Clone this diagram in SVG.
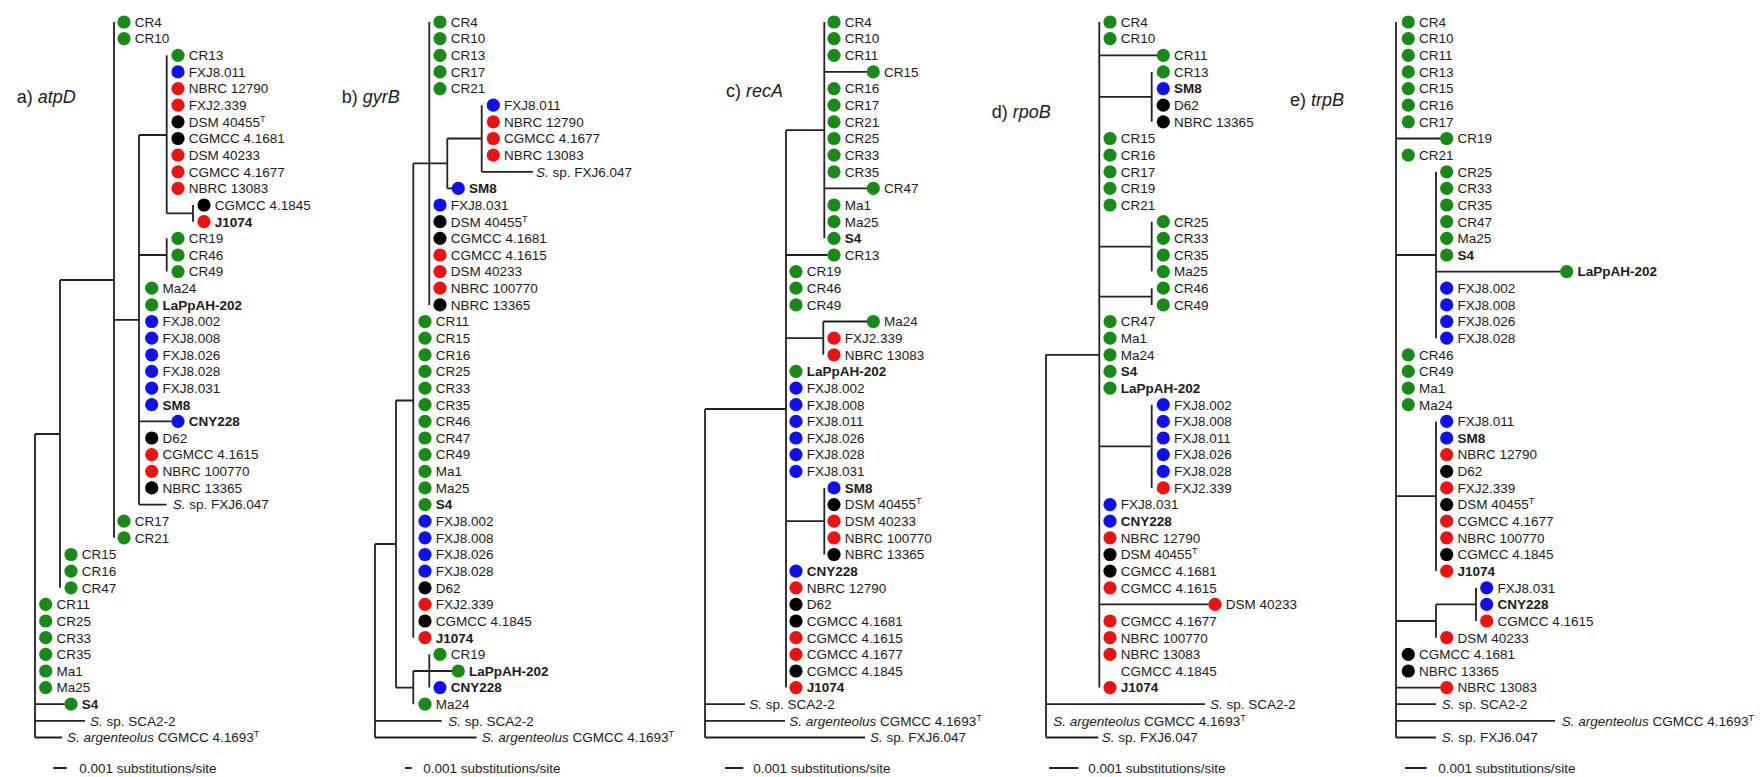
<svg xmlns="http://www.w3.org/2000/svg" width="1763" height="777" viewBox="0 0 1763 777">
<style>
.ln{fill:none;stroke:#222;stroke-width:1.8}
.g{fill:#178a17}.b{fill:#1010ee}.r{fill:#ee1111}.k{fill:#000}
circle{r:6.6px}
text{font-family:"Liberation Sans",Arial,sans-serif;font-size:13.5px;fill:#1a1a1a}
.bd{font-weight:bold}
.it{font-style:italic}
.sup{font-size:9px}
.lbl{font-size:18px}
</style>
<rect width="1763" height="777" fill="#fff"/>

<g id="labels">
<text class="lbl" x="16.7" y="103.3">a) <tspan class="it">atpD</tspan></text>
<text class="lbl" x="341.7" y="103.3">b) <tspan class="it">gyrB</tspan></text>
<text class="lbl" x="726" y="96.7">c) <tspan class="it">recA</tspan></text>
<text class="lbl" x="991.7" y="118">d) <tspan class="it">rpoB</tspan></text>
<text class="lbl" x="1290" y="105.5">e) <tspan class="it">trpB</tspan></text>
</g>

<g id="connectors" class="ln">
<path d="M35 434V737.5M35 434H60M35 704.2H64.7M35 720.9H85M35 737.5H62"/>
<path d="M60 280V587.8M60 280H114"/>
<path d="M114 22V537.8M114 319.8H139"/>
<path d="M139 135V504.6M139 135H166.7M139 255H166.7M139 421.4H171.7M139 504.6H166.7"/>
<path d="M166.7 55.3V213.4M166.7 213.4H193M193 205V221.7M166.7 238.3V271.6"/>
<path d="M375 544V737.5M375 544H396M375 720.9H441.7M375 737.5H476.7"/>
<path d="M396 400.5V687.6M396 400.5H413.3M396 687.6H413.3"/>
<path d="M413.3 163.4V637.7M413.3 163.4H447.3M429.3 22V304.9"/>
<path d="M447.3 138.5V188.4M447.3 138.5H481.7M447.3 188.4H452M481.7 105.2V171.8M481.7 171.8H533"/>
<path d="M413.3 671V704.2M413.3 671H452M429.3 654.3V687.6"/>
<path d="M705 409V737.5M705 409H786M705 704.2H745M705 720.9H785M705 737.5H865"/>
<path d="M786 130.2V687.6M786 130.2H824.3M786 255H827.7M786 338.2H823.3M786 521.2H824.3"/>
<path d="M824.3 22V238.3M824.3 71.9H867M824.3 188.4H867"/>
<path d="M823.3 321.5V354.8M823.3 321.5H867M824.3 487.9V554.5"/>
<path d="M1046 354.8V737.5M1046 354.8H1099.3M1046 704.2H1205M1046 737.5H1098.3"/>
<path d="M1099.3 22V687.6M1099.3 55.3H1157M1099.3 96.9H1151.7M1099.3 246.6H1151.7M1099.3 296.6H1151.7M1099.3 446.3H1151.7M1099.3 604.4H1208.7"/>
<path d="M1151.7 71.9V121.8M1151.7 221.7V271.6M1151.7 288.2V304.9M1151.7 404.7V487.9"/>
<path d="M1396 22V737.5M1396 138.5H1440.4M1396 255H1436M1396 496.2H1436M1396 621H1436M1396 687.6H1440.4M1396 704.2H1436M1396 720.9H1555M1396 737.5H1436"/>
<path d="M1436 171.8V338.2M1436 271.6H1560.4M1436 421.4V571.1M1436 604.4V637.7M1436 604.4H1476M1476 587.8V621"/>
<path d="M53.3 768H66.7M405 768H411.7M725 768H743.3M1049.3 768H1078.3M1405 768H1426.7"/>
</g>

<g id="scales">
<text x="79.3" y="772.8">0.001 substitutions/site</text>
<text x="423.3" y="772.8">0.001 substitutions/site</text>
<text x="753.3" y="772.8">0.001 substitutions/site</text>
<text x="1088.3" y="772.8">0.001 substitutions/site</text>
<text x="1438.3" y="772.8">0.001 substitutions/site</text>
</g>

<g id="panel-a">
<g id="a-CR4"><circle class="g" cx="124" cy="22" r="6.6"/><text x="134.8" y="26.8">CR4</text></g>
<g id="a-CR10"><circle class="g" cx="124" cy="38.6" r="6.6"/><text x="134.8" y="43.4">CR10</text></g>
<g id="a-CR13"><circle class="g" cx="178" cy="55.3" r="6.6"/><text x="188.8" y="60.1">CR13</text></g>
<g id="a-FXJ8.011"><circle class="b" cx="178" cy="71.9" r="6.6"/><text x="188.8" y="76.7">FXJ8.011</text></g>
<g id="a-NBRC12790"><circle class="r" cx="178" cy="88.6" r="6.6"/><text x="188.8" y="93.4">NBRC 12790</text></g>
<g id="a-FXJ2.339"><circle class="r" cx="178" cy="105.2" r="6.6"/><text x="188.8" y="110">FXJ2.339</text></g>
<g id="a-DSM40455T"><circle class="k" cx="178" cy="121.8" r="6.6"/><text x="188.8" y="126.6">DSM 40455<tspan class="sup" dy="-5">T</tspan></text></g>
<g id="a-CGMCC4.1681"><circle class="k" cx="178" cy="138.5" r="6.6"/><text x="188.8" y="143.3">CGMCC 4.1681</text></g>
<g id="a-DSM40233"><circle class="r" cx="178" cy="155.1" r="6.6"/><text x="188.8" y="159.9">DSM 40233</text></g>
<g id="a-CGMCC4.1677"><circle class="r" cx="178" cy="171.8" r="6.6"/><text x="188.8" y="176.6">CGMCC 4.1677</text></g>
<g id="a-NBRC13083"><circle class="r" cx="178" cy="188.4" r="6.6"/><text x="188.8" y="193.2">NBRC 13083</text></g>
<g id="a-CGMCC4.1845"><circle class="k" cx="204" cy="205" r="6.6"/><text x="214.8" y="209.8">CGMCC 4.1845</text></g>
<g id="a-J1074"><circle class="r" cx="204" cy="221.7" r="6.6"/><text class="bd" x="214.8" y="226.5">J1074</text></g>
<g id="a-CR19"><circle class="g" cx="178" cy="238.3" r="6.6"/><text x="188.8" y="243.1">CR19</text></g>
<g id="a-CR46"><circle class="g" cx="178" cy="255" r="6.6"/><text x="188.8" y="259.8">CR46</text></g>
<g id="a-CR49"><circle class="g" cx="178" cy="271.6" r="6.6"/><text x="188.8" y="276.4">CR49</text></g>
<g id="a-Ma24"><circle class="g" cx="151.7" cy="288.2" r="6.6"/><text x="162.5" y="293">Ma24</text></g>
<g id="a-LaPpAH-202"><circle class="g" cx="151.7" cy="304.9" r="6.6"/><text class="bd" x="162.5" y="309.7">LaPpAH-202</text></g>
<g id="a-FXJ8.002"><circle class="b" cx="151.7" cy="321.5" r="6.6"/><text x="162.5" y="326.3">FXJ8.002</text></g>
<g id="a-FXJ8.008"><circle class="b" cx="151.7" cy="338.2" r="6.6"/><text x="162.5" y="343">FXJ8.008</text></g>
<g id="a-FXJ8.026"><circle class="b" cx="151.7" cy="354.8" r="6.6"/><text x="162.5" y="359.6">FXJ8.026</text></g>
<g id="a-FXJ8.028"><circle class="b" cx="151.7" cy="371.4" r="6.6"/><text x="162.5" y="376.2">FXJ8.028</text></g>
<g id="a-FXJ8.031"><circle class="b" cx="151.7" cy="388.1" r="6.6"/><text x="162.5" y="392.9">FXJ8.031</text></g>
<g id="a-SM8"><circle class="b" cx="151.7" cy="404.7" r="6.6"/><text class="bd" x="162.5" y="409.5">SM8</text></g>
<g id="a-CNY228"><circle class="b" cx="178" cy="421.4" r="6.6"/><text class="bd" x="188.8" y="426.2">CNY228</text></g>
<g id="a-D62"><circle class="k" cx="151.7" cy="438" r="6.6"/><text x="162.5" y="442.8">D62</text></g>
<g id="a-CGMCC4.1615"><circle class="r" cx="151.7" cy="454.6" r="6.6"/><text x="162.5" y="459.4">CGMCC 4.1615</text></g>
<g id="a-NBRC100770"><circle class="r" cx="151.7" cy="471.3" r="6.6"/><text x="162.5" y="476.1">NBRC 100770</text></g>
<g id="a-NBRC13365"><circle class="k" cx="151.7" cy="487.9" r="6.6"/><text x="162.5" y="492.7">NBRC 13365</text></g>
<g id="a-FXJ6.047"><text x="172.7" y="509.4"><tspan class="it">S.</tspan> sp. FXJ6.047</text></g>
<g id="a-CR17"><circle class="g" cx="124" cy="521.2" r="6.6"/><text x="134.8" y="526">CR17</text></g>
<g id="a-CR21"><circle class="g" cx="124" cy="537.8" r="6.6"/><text x="134.8" y="542.6">CR21</text></g>
<g id="a-CR15"><circle class="g" cx="71" cy="554.5" r="6.6"/><text x="81.8" y="559.3">CR15</text></g>
<g id="a-CR16"><circle class="g" cx="71" cy="571.1" r="6.6"/><text x="81.8" y="575.9">CR16</text></g>
<g id="a-CR47"><circle class="g" cx="71" cy="587.8" r="6.6"/><text x="81.8" y="592.6">CR47</text></g>
<g id="a-CR11"><circle class="g" cx="45.7" cy="604.4" r="6.6"/><text x="56.5" y="609.2">CR11</text></g>
<g id="a-CR25"><circle class="g" cx="45.7" cy="621" r="6.6"/><text x="56.5" y="625.8">CR25</text></g>
<g id="a-CR33"><circle class="g" cx="45.7" cy="637.7" r="6.6"/><text x="56.5" y="642.5">CR33</text></g>
<g id="a-CR35"><circle class="g" cx="45.7" cy="654.3" r="6.6"/><text x="56.5" y="659.1">CR35</text></g>
<g id="a-Ma1"><circle class="g" cx="45.7" cy="671" r="6.6"/><text x="56.5" y="675.8">Ma1</text></g>
<g id="a-Ma25"><circle class="g" cx="45.7" cy="687.6" r="6.6"/><text x="56.5" y="692.4">Ma25</text></g>
<g id="a-S4"><circle class="g" cx="71" cy="704.2" r="6.6"/><text class="bd" x="81.8" y="709">S4</text></g>
<g id="a-SCA2-2"><text x="90" y="725.7"><tspan class="it">S.</tspan> sp. SCA2-2</text></g>
<g id="a-argenteolus"><text x="67" y="742.3"><tspan class="it">S. argenteolus</tspan> CGMCC 4.1693<tspan class="sup" dy="-5">T</tspan></text></g>
</g>

<g id="panel-b">
<g id="b-CR4"><circle class="g" cx="440" cy="22" r="6.6"/><text x="450.8" y="26.8">CR4</text></g>
<g id="b-CR10"><circle class="g" cx="440" cy="38.6" r="6.6"/><text x="450.8" y="43.4">CR10</text></g>
<g id="b-CR13"><circle class="g" cx="440" cy="55.3" r="6.6"/><text x="450.8" y="60.1">CR13</text></g>
<g id="b-CR17"><circle class="g" cx="440" cy="71.9" r="6.6"/><text x="450.8" y="76.7">CR17</text></g>
<g id="b-CR21"><circle class="g" cx="440" cy="88.6" r="6.6"/><text x="450.8" y="93.4">CR21</text></g>
<g id="b-FXJ8.011"><circle class="b" cx="493.3" cy="105.2" r="6.6"/><text x="504.1" y="110">FXJ8.011</text></g>
<g id="b-NBRC12790"><circle class="r" cx="493.3" cy="121.8" r="6.6"/><text x="504.1" y="126.6">NBRC 12790</text></g>
<g id="b-CGMCC4.1677"><circle class="r" cx="493.3" cy="138.5" r="6.6"/><text x="504.1" y="143.3">CGMCC 4.1677</text></g>
<g id="b-NBRC13083"><circle class="r" cx="493.3" cy="155.1" r="6.6"/><text x="504.1" y="159.9">NBRC 13083</text></g>
<g id="b-FXJ6.047"><text x="536" y="176.6"><tspan class="it">S.</tspan> sp. FXJ6.047</text></g>
<g id="b-SM8"><circle class="b" cx="458.3" cy="188.4" r="6.6"/><text class="bd" x="469.1" y="193.2">SM8</text></g>
<g id="b-FXJ8.031"><circle class="b" cx="440" cy="205" r="6.6"/><text x="450.8" y="209.8">FXJ8.031</text></g>
<g id="b-DSM40455T"><circle class="k" cx="440" cy="221.7" r="6.6"/><text x="450.8" y="226.5">DSM 40455<tspan class="sup" dy="-5">T</tspan></text></g>
<g id="b-CGMCC4.1681"><circle class="k" cx="440" cy="238.3" r="6.6"/><text x="450.8" y="243.1">CGMCC 4.1681</text></g>
<g id="b-CGMCC4.1615"><circle class="r" cx="440" cy="255" r="6.6"/><text x="450.8" y="259.8">CGMCC 4.1615</text></g>
<g id="b-DSM40233"><circle class="r" cx="440" cy="271.6" r="6.6"/><text x="450.8" y="276.4">DSM 40233</text></g>
<g id="b-NBRC100770"><circle class="r" cx="440" cy="288.2" r="6.6"/><text x="450.8" y="293">NBRC 100770</text></g>
<g id="b-NBRC13365"><circle class="k" cx="440" cy="304.9" r="6.6"/><text x="450.8" y="309.7">NBRC 13365</text></g>
<g id="b-CR11"><circle class="g" cx="425" cy="321.5" r="6.6"/><text x="435.8" y="326.3">CR11</text></g>
<g id="b-CR15"><circle class="g" cx="425" cy="338.2" r="6.6"/><text x="435.8" y="343">CR15</text></g>
<g id="b-CR16"><circle class="g" cx="425" cy="354.8" r="6.6"/><text x="435.8" y="359.6">CR16</text></g>
<g id="b-CR25"><circle class="g" cx="425" cy="371.4" r="6.6"/><text x="435.8" y="376.2">CR25</text></g>
<g id="b-CR33"><circle class="g" cx="425" cy="388.1" r="6.6"/><text x="435.8" y="392.9">CR33</text></g>
<g id="b-CR35"><circle class="g" cx="425" cy="404.7" r="6.6"/><text x="435.8" y="409.5">CR35</text></g>
<g id="b-CR46"><circle class="g" cx="425" cy="421.4" r="6.6"/><text x="435.8" y="426.2">CR46</text></g>
<g id="b-CR47"><circle class="g" cx="425" cy="438" r="6.6"/><text x="435.8" y="442.8">CR47</text></g>
<g id="b-CR49"><circle class="g" cx="425" cy="454.6" r="6.6"/><text x="435.8" y="459.4">CR49</text></g>
<g id="b-Ma1"><circle class="g" cx="425" cy="471.3" r="6.6"/><text x="435.8" y="476.1">Ma1</text></g>
<g id="b-Ma25"><circle class="g" cx="425" cy="487.9" r="6.6"/><text x="435.8" y="492.7">Ma25</text></g>
<g id="b-S4"><circle class="g" cx="425" cy="504.6" r="6.6"/><text class="bd" x="435.8" y="509.4">S4</text></g>
<g id="b-FXJ8.002"><circle class="b" cx="425" cy="521.2" r="6.6"/><text x="435.8" y="526">FXJ8.002</text></g>
<g id="b-FXJ8.008"><circle class="b" cx="425" cy="537.8" r="6.6"/><text x="435.8" y="542.6">FXJ8.008</text></g>
<g id="b-FXJ8.026"><circle class="b" cx="425" cy="554.5" r="6.6"/><text x="435.8" y="559.3">FXJ8.026</text></g>
<g id="b-FXJ8.028"><circle class="b" cx="425" cy="571.1" r="6.6"/><text x="435.8" y="575.9">FXJ8.028</text></g>
<g id="b-D62"><circle class="k" cx="425" cy="587.8" r="6.6"/><text x="435.8" y="592.6">D62</text></g>
<g id="b-FXJ2.339"><circle class="r" cx="425" cy="604.4" r="6.6"/><text x="435.8" y="609.2">FXJ2.339</text></g>
<g id="b-CGMCC4.1845"><circle class="k" cx="425" cy="621" r="6.6"/><text x="435.8" y="625.8">CGMCC 4.1845</text></g>
<g id="b-J1074"><circle class="r" cx="425" cy="637.7" r="6.6"/><text class="bd" x="435.8" y="642.5">J1074</text></g>
<g id="b-CR19"><circle class="g" cx="440" cy="654.3" r="6.6"/><text x="450.8" y="659.1">CR19</text></g>
<g id="b-LaPpAH-202"><circle class="g" cx="458.3" cy="671" r="6.6"/><text class="bd" x="469.1" y="675.8">LaPpAH-202</text></g>
<g id="b-CNY228"><circle class="b" cx="440" cy="687.6" r="6.6"/><text class="bd" x="450.8" y="692.4">CNY228</text></g>
<g id="b-Ma24"><circle class="g" cx="425" cy="704.2" r="6.6"/><text x="435.8" y="709">Ma24</text></g>
<g id="b-SCA2-2"><text x="448.3" y="725.7"><tspan class="it">S.</tspan> sp. SCA2-2</text></g>
<g id="b-argenteolus"><text x="481.7" y="742.3"><tspan class="it">S. argenteolus</tspan> CGMCC 4.1693<tspan class="sup" dy="-5">T</tspan></text></g>
</g>

<g id="panel-c">
<g id="c-CR4"><circle class="g" cx="834" cy="22" r="6.6"/><text x="844.8" y="26.8">CR4</text></g>
<g id="c-CR10"><circle class="g" cx="834" cy="38.6" r="6.6"/><text x="844.8" y="43.4">CR10</text></g>
<g id="c-CR11"><circle class="g" cx="834" cy="55.3" r="6.6"/><text x="844.8" y="60.1">CR11</text></g>
<g id="c-CR15"><circle class="g" cx="873.3" cy="71.9" r="6.6"/><text x="884.1" y="76.7">CR15</text></g>
<g id="c-CR16"><circle class="g" cx="834" cy="88.6" r="6.6"/><text x="844.8" y="93.4">CR16</text></g>
<g id="c-CR17"><circle class="g" cx="834" cy="105.2" r="6.6"/><text x="844.8" y="110">CR17</text></g>
<g id="c-CR21"><circle class="g" cx="834" cy="121.8" r="6.6"/><text x="844.8" y="126.6">CR21</text></g>
<g id="c-CR25"><circle class="g" cx="834" cy="138.5" r="6.6"/><text x="844.8" y="143.3">CR25</text></g>
<g id="c-CR33"><circle class="g" cx="834" cy="155.1" r="6.6"/><text x="844.8" y="159.9">CR33</text></g>
<g id="c-CR35"><circle class="g" cx="834" cy="171.8" r="6.6"/><text x="844.8" y="176.6">CR35</text></g>
<g id="c-CR47"><circle class="g" cx="873.3" cy="188.4" r="6.6"/><text x="884.1" y="193.2">CR47</text></g>
<g id="c-Ma1"><circle class="g" cx="834" cy="205" r="6.6"/><text x="844.8" y="209.8">Ma1</text></g>
<g id="c-Ma25"><circle class="g" cx="834" cy="221.7" r="6.6"/><text x="844.8" y="226.5">Ma25</text></g>
<g id="c-S4"><circle class="g" cx="834" cy="238.3" r="6.6"/><text class="bd" x="844.8" y="243.1">S4</text></g>
<g id="c-CR13"><circle class="g" cx="834" cy="255" r="6.6"/><text x="844.8" y="259.8">CR13</text></g>
<g id="c-CR19"><circle class="g" cx="796" cy="271.6" r="6.6"/><text x="806.8" y="276.4">CR19</text></g>
<g id="c-CR46"><circle class="g" cx="796" cy="288.2" r="6.6"/><text x="806.8" y="293">CR46</text></g>
<g id="c-CR49"><circle class="g" cx="796" cy="304.9" r="6.6"/><text x="806.8" y="309.7">CR49</text></g>
<g id="c-Ma24"><circle class="g" cx="873.3" cy="321.5" r="6.6"/><text x="884.1" y="326.3">Ma24</text></g>
<g id="c-FXJ2.339"><circle class="r" cx="834" cy="338.2" r="6.6"/><text x="844.8" y="343">FXJ2.339</text></g>
<g id="c-NBRC13083"><circle class="r" cx="834" cy="354.8" r="6.6"/><text x="844.8" y="359.6">NBRC 13083</text></g>
<g id="c-LaPpAH-202"><circle class="g" cx="796" cy="371.4" r="6.6"/><text class="bd" x="806.8" y="376.2">LaPpAH-202</text></g>
<g id="c-FXJ8.002"><circle class="b" cx="796" cy="388.1" r="6.6"/><text x="806.8" y="392.9">FXJ8.002</text></g>
<g id="c-FXJ8.008"><circle class="b" cx="796" cy="404.7" r="6.6"/><text x="806.8" y="409.5">FXJ8.008</text></g>
<g id="c-FXJ8.011"><circle class="b" cx="796" cy="421.4" r="6.6"/><text x="806.8" y="426.2">FXJ8.011</text></g>
<g id="c-FXJ8.026"><circle class="b" cx="796" cy="438" r="6.6"/><text x="806.8" y="442.8">FXJ8.026</text></g>
<g id="c-FXJ8.028"><circle class="b" cx="796" cy="454.6" r="6.6"/><text x="806.8" y="459.4">FXJ8.028</text></g>
<g id="c-FXJ8.031"><circle class="b" cx="796" cy="471.3" r="6.6"/><text x="806.8" y="476.1">FXJ8.031</text></g>
<g id="c-SM8"><circle class="b" cx="834" cy="487.9" r="6.6"/><text class="bd" x="844.8" y="492.7">SM8</text></g>
<g id="c-DSM40455T"><circle class="k" cx="834" cy="504.6" r="6.6"/><text x="844.8" y="509.4">DSM 40455<tspan class="sup" dy="-5">T</tspan></text></g>
<g id="c-DSM40233"><circle class="r" cx="834" cy="521.2" r="6.6"/><text x="844.8" y="526">DSM 40233</text></g>
<g id="c-NBRC100770"><circle class="r" cx="834" cy="537.8" r="6.6"/><text x="844.8" y="542.6">NBRC 100770</text></g>
<g id="c-NBRC13365"><circle class="k" cx="834" cy="554.5" r="6.6"/><text x="844.8" y="559.3">NBRC 13365</text></g>
<g id="c-CNY228"><circle class="b" cx="796" cy="571.1" r="6.6"/><text class="bd" x="806.8" y="575.9">CNY228</text></g>
<g id="c-NBRC12790"><circle class="r" cx="796" cy="587.8" r="6.6"/><text x="806.8" y="592.6">NBRC 12790</text></g>
<g id="c-D62"><circle class="k" cx="796" cy="604.4" r="6.6"/><text x="806.8" y="609.2">D62</text></g>
<g id="c-CGMCC4.1681"><circle class="k" cx="796" cy="621" r="6.6"/><text x="806.8" y="625.8">CGMCC 4.1681</text></g>
<g id="c-CGMCC4.1615"><circle class="r" cx="796" cy="637.7" r="6.6"/><text x="806.8" y="642.5">CGMCC 4.1615</text></g>
<g id="c-CGMCC4.1677"><circle class="r" cx="796" cy="654.3" r="6.6"/><text x="806.8" y="659.1">CGMCC 4.1677</text></g>
<g id="c-CGMCC4.1845"><circle class="k" cx="796" cy="671" r="6.6"/><text x="806.8" y="675.8">CGMCC 4.1845</text></g>
<g id="c-J1074"><circle class="r" cx="796" cy="687.6" r="6.6"/><text class="bd" x="806.8" y="692.4">J1074</text></g>
<g id="c-SCA2-2"><text x="749.3" y="709"><tspan class="it">S.</tspan> sp. SCA2-2</text></g>
<g id="c-argenteolus"><text x="789.3" y="725.7"><tspan class="it">S. argenteolus</tspan> CGMCC 4.1693<tspan class="sup" dy="-5">T</tspan></text></g>
<g id="c-FXJ6.047"><text x="870" y="742.3"><tspan class="it">S.</tspan> sp. FXJ6.047</text></g>
</g>

<g id="panel-d">
<g id="d-CR4"><circle class="g" cx="1110" cy="22" r="6.6"/><text x="1120.8" y="26.8">CR4</text></g>
<g id="d-CR10"><circle class="g" cx="1110" cy="38.6" r="6.6"/><text x="1120.8" y="43.4">CR10</text></g>
<g id="d-CR11"><circle class="g" cx="1163.3" cy="55.3" r="6.6"/><text x="1174.1" y="60.1">CR11</text></g>
<g id="d-CR13"><circle class="g" cx="1163.3" cy="71.9" r="6.6"/><text x="1174.1" y="76.7">CR13</text></g>
<g id="d-SM8"><circle class="b" cx="1163.3" cy="88.6" r="6.6"/><text class="bd" x="1174.1" y="93.4">SM8</text></g>
<g id="d-D62"><circle class="k" cx="1163.3" cy="105.2" r="6.6"/><text x="1174.1" y="110">D62</text></g>
<g id="d-NBRC13365"><circle class="k" cx="1163.3" cy="121.8" r="6.6"/><text x="1174.1" y="126.6">NBRC 13365</text></g>
<g id="d-CR15"><circle class="g" cx="1110" cy="138.5" r="6.6"/><text x="1120.8" y="143.3">CR15</text></g>
<g id="d-CR16"><circle class="g" cx="1110" cy="155.1" r="6.6"/><text x="1120.8" y="159.9">CR16</text></g>
<g id="d-CR17"><circle class="g" cx="1110" cy="171.8" r="6.6"/><text x="1120.8" y="176.6">CR17</text></g>
<g id="d-CR19"><circle class="g" cx="1110" cy="188.4" r="6.6"/><text x="1120.8" y="193.2">CR19</text></g>
<g id="d-CR21"><circle class="g" cx="1110" cy="205" r="6.6"/><text x="1120.8" y="209.8">CR21</text></g>
<g id="d-CR25"><circle class="g" cx="1163.3" cy="221.7" r="6.6"/><text x="1174.1" y="226.5">CR25</text></g>
<g id="d-CR33"><circle class="g" cx="1163.3" cy="238.3" r="6.6"/><text x="1174.1" y="243.1">CR33</text></g>
<g id="d-CR35"><circle class="g" cx="1163.3" cy="255" r="6.6"/><text x="1174.1" y="259.8">CR35</text></g>
<g id="d-Ma25"><circle class="g" cx="1163.3" cy="271.6" r="6.6"/><text x="1174.1" y="276.4">Ma25</text></g>
<g id="d-CR46"><circle class="g" cx="1163.3" cy="288.2" r="6.6"/><text x="1174.1" y="293">CR46</text></g>
<g id="d-CR49"><circle class="g" cx="1163.3" cy="304.9" r="6.6"/><text x="1174.1" y="309.7">CR49</text></g>
<g id="d-CR47"><circle class="g" cx="1110" cy="321.5" r="6.6"/><text x="1120.8" y="326.3">CR47</text></g>
<g id="d-Ma1"><circle class="g" cx="1110" cy="338.2" r="6.6"/><text x="1120.8" y="343">Ma1</text></g>
<g id="d-Ma24"><circle class="g" cx="1110" cy="354.8" r="6.6"/><text x="1120.8" y="359.6">Ma24</text></g>
<g id="d-S4"><circle class="g" cx="1110" cy="371.4" r="6.6"/><text class="bd" x="1120.8" y="376.2">S4</text></g>
<g id="d-LaPpAH-202"><circle class="g" cx="1110" cy="388.1" r="6.6"/><text class="bd" x="1120.8" y="392.9">LaPpAH-202</text></g>
<g id="d-FXJ8.002"><circle class="b" cx="1163.3" cy="404.7" r="6.6"/><text x="1174.1" y="409.5">FXJ8.002</text></g>
<g id="d-FXJ8.008"><circle class="b" cx="1163.3" cy="421.4" r="6.6"/><text x="1174.1" y="426.2">FXJ8.008</text></g>
<g id="d-FXJ8.011"><circle class="b" cx="1163.3" cy="438" r="6.6"/><text x="1174.1" y="442.8">FXJ8.011</text></g>
<g id="d-FXJ8.026"><circle class="b" cx="1163.3" cy="454.6" r="6.6"/><text x="1174.1" y="459.4">FXJ8.026</text></g>
<g id="d-FXJ8.028"><circle class="b" cx="1163.3" cy="471.3" r="6.6"/><text x="1174.1" y="476.1">FXJ8.028</text></g>
<g id="d-FXJ2.339"><circle class="r" cx="1163.3" cy="487.9" r="6.6"/><text x="1174.1" y="492.7">FXJ2.339</text></g>
<g id="d-FXJ8.031"><circle class="b" cx="1110" cy="504.6" r="6.6"/><text x="1120.8" y="509.4">FXJ8.031</text></g>
<g id="d-CNY228"><circle class="b" cx="1110" cy="521.2" r="6.6"/><text class="bd" x="1120.8" y="526">CNY228</text></g>
<g id="d-NBRC12790"><circle class="r" cx="1110" cy="537.8" r="6.6"/><text x="1120.8" y="542.6">NBRC 12790</text></g>
<g id="d-DSM40455T"><circle class="k" cx="1110" cy="554.5" r="6.6"/><text x="1120.8" y="559.3">DSM 40455<tspan class="sup" dy="-5">T</tspan></text></g>
<g id="d-CGMCC4.1681"><circle class="k" cx="1110" cy="571.1" r="6.6"/><text x="1120.8" y="575.9">CGMCC 4.1681</text></g>
<g id="d-CGMCC4.1615"><circle class="r" cx="1110" cy="587.8" r="6.6"/><text x="1120.8" y="592.6">CGMCC 4.1615</text></g>
<g id="d-DSM40233"><circle class="r" cx="1215" cy="604.4" r="6.6"/><text x="1225.8" y="609.2">DSM 40233</text></g>
<g id="d-CGMCC4.1677"><circle class="r" cx="1110" cy="621" r="6.6"/><text x="1120.8" y="625.8">CGMCC 4.1677</text></g>
<g id="d-NBRC100770"><circle class="r" cx="1110" cy="637.7" r="6.6"/><text x="1120.8" y="642.5">NBRC 100770</text></g>
<g id="d-NBRC13083"><circle class="r" cx="1110" cy="654.3" r="6.6"/><text x="1120.8" y="659.1">NBRC 13083</text></g>
<g id="d-CGMCC4.1845"><text x="1120.8" y="675.8">CGMCC 4.1845</text></g>
<g id="d-J1074"><circle class="r" cx="1110" cy="687.6" r="6.6"/><text class="bd" x="1120.8" y="692.4">J1074</text></g>
<g id="d-SCA2-2"><text x="1210" y="709"><tspan class="it">S.</tspan> sp. SCA2-2</text></g>
<g id="d-argenteolus"><text x="1053.3" y="725.7"><tspan class="it">S. argenteolus</tspan> CGMCC 4.1693<tspan class="sup" dy="-5">T</tspan></text></g>
<g id="d-FXJ6.047"><text x="1101.7" y="742.3"><tspan class="it">S.</tspan> sp. FXJ6.047</text></g>
</g>

<g id="panel-e">
<g id="e-CR4"><circle class="g" cx="1408.3" cy="22" r="6.6"/><text x="1419.1" y="26.8">CR4</text></g>
<g id="e-CR10"><circle class="g" cx="1408.3" cy="38.6" r="6.6"/><text x="1419.1" y="43.4">CR10</text></g>
<g id="e-CR11"><circle class="g" cx="1408.3" cy="55.3" r="6.6"/><text x="1419.1" y="60.1">CR11</text></g>
<g id="e-CR13"><circle class="g" cx="1408.3" cy="71.9" r="6.6"/><text x="1419.1" y="76.7">CR13</text></g>
<g id="e-CR15"><circle class="g" cx="1408.3" cy="88.6" r="6.6"/><text x="1419.1" y="93.4">CR15</text></g>
<g id="e-CR16"><circle class="g" cx="1408.3" cy="105.2" r="6.6"/><text x="1419.1" y="110">CR16</text></g>
<g id="e-CR17"><circle class="g" cx="1408.3" cy="121.8" r="6.6"/><text x="1419.1" y="126.6">CR17</text></g>
<g id="e-CR19"><circle class="g" cx="1446.7" cy="138.5" r="6.6"/><text x="1457.5" y="143.3">CR19</text></g>
<g id="e-CR21"><circle class="g" cx="1408.3" cy="155.1" r="6.6"/><text x="1419.1" y="159.9">CR21</text></g>
<g id="e-CR25"><circle class="g" cx="1446.7" cy="171.8" r="6.6"/><text x="1457.5" y="176.6">CR25</text></g>
<g id="e-CR33"><circle class="g" cx="1446.7" cy="188.4" r="6.6"/><text x="1457.5" y="193.2">CR33</text></g>
<g id="e-CR35"><circle class="g" cx="1446.7" cy="205" r="6.6"/><text x="1457.5" y="209.8">CR35</text></g>
<g id="e-CR47"><circle class="g" cx="1446.7" cy="221.7" r="6.6"/><text x="1457.5" y="226.5">CR47</text></g>
<g id="e-Ma25"><circle class="g" cx="1446.7" cy="238.3" r="6.6"/><text x="1457.5" y="243.1">Ma25</text></g>
<g id="e-S4"><circle class="g" cx="1446.7" cy="255" r="6.6"/><text class="bd" x="1457.5" y="259.8">S4</text></g>
<g id="e-LaPpAH-202"><circle class="g" cx="1566.7" cy="271.6" r="6.6"/><text class="bd" x="1577.5" y="276.4">LaPpAH-202</text></g>
<g id="e-FXJ8.002"><circle class="b" cx="1446.7" cy="288.2" r="6.6"/><text x="1457.5" y="293">FXJ8.002</text></g>
<g id="e-FXJ8.008"><circle class="b" cx="1446.7" cy="304.9" r="6.6"/><text x="1457.5" y="309.7">FXJ8.008</text></g>
<g id="e-FXJ8.026"><circle class="b" cx="1446.7" cy="321.5" r="6.6"/><text x="1457.5" y="326.3">FXJ8.026</text></g>
<g id="e-FXJ8.028"><circle class="b" cx="1446.7" cy="338.2" r="6.6"/><text x="1457.5" y="343">FXJ8.028</text></g>
<g id="e-CR46"><circle class="g" cx="1408.3" cy="354.8" r="6.6"/><text x="1419.1" y="359.6">CR46</text></g>
<g id="e-CR49"><circle class="g" cx="1408.3" cy="371.4" r="6.6"/><text x="1419.1" y="376.2">CR49</text></g>
<g id="e-Ma1"><circle class="g" cx="1408.3" cy="388.1" r="6.6"/><text x="1419.1" y="392.9">Ma1</text></g>
<g id="e-Ma24"><circle class="g" cx="1408.3" cy="404.7" r="6.6"/><text x="1419.1" y="409.5">Ma24</text></g>
<g id="e-FXJ8.011"><circle class="b" cx="1446.7" cy="421.4" r="6.6"/><text x="1457.5" y="426.2">FXJ8.011</text></g>
<g id="e-SM8"><circle class="b" cx="1446.7" cy="438" r="6.6"/><text class="bd" x="1457.5" y="442.8">SM8</text></g>
<g id="e-NBRC12790"><circle class="r" cx="1446.7" cy="454.6" r="6.6"/><text x="1457.5" y="459.4">NBRC 12790</text></g>
<g id="e-D62"><circle class="k" cx="1446.7" cy="471.3" r="6.6"/><text x="1457.5" y="476.1">D62</text></g>
<g id="e-FXJ2.339"><circle class="r" cx="1446.7" cy="487.9" r="6.6"/><text x="1457.5" y="492.7">FXJ2.339</text></g>
<g id="e-DSM40455T"><circle class="k" cx="1446.7" cy="504.6" r="6.6"/><text x="1457.5" y="509.4">DSM 40455<tspan class="sup" dy="-5">T</tspan></text></g>
<g id="e-CGMCC4.1677"><circle class="r" cx="1446.7" cy="521.2" r="6.6"/><text x="1457.5" y="526">CGMCC 4.1677</text></g>
<g id="e-NBRC100770"><circle class="r" cx="1446.7" cy="537.8" r="6.6"/><text x="1457.5" y="542.6">NBRC 100770</text></g>
<g id="e-CGMCC4.1845"><circle class="k" cx="1446.7" cy="554.5" r="6.6"/><text x="1457.5" y="559.3">CGMCC 4.1845</text></g>
<g id="e-J1074"><circle class="r" cx="1446.7" cy="571.1" r="6.6"/><text class="bd" x="1457.5" y="575.9">J1074</text></g>
<g id="e-FXJ8.031"><circle class="b" cx="1486.7" cy="587.8" r="6.6"/><text x="1497.5" y="592.6">FXJ8.031</text></g>
<g id="e-CNY228"><circle class="b" cx="1486.7" cy="604.4" r="6.6"/><text class="bd" x="1497.5" y="609.2">CNY228</text></g>
<g id="e-CGMCC4.1615"><circle class="r" cx="1486.7" cy="621" r="6.6"/><text x="1497.5" y="625.8">CGMCC 4.1615</text></g>
<g id="e-DSM40233"><circle class="r" cx="1446.7" cy="637.7" r="6.6"/><text x="1457.5" y="642.5">DSM 40233</text></g>
<g id="e-CGMCC4.1681"><circle class="k" cx="1408.3" cy="654.3" r="6.6"/><text x="1419.1" y="659.1">CGMCC 4.1681</text></g>
<g id="e-NBRC13365"><circle class="k" cx="1408.3" cy="671" r="6.6"/><text x="1419.1" y="675.8">NBRC 13365</text></g>
<g id="e-NBRC13083"><circle class="r" cx="1446.7" cy="687.6" r="6.6"/><text x="1457.5" y="692.4">NBRC 13083</text></g>
<g id="e-SCA2-2"><text x="1441.7" y="709"><tspan class="it">S.</tspan> sp. SCA2-2</text></g>
<g id="e-argenteolus"><text x="1561.7" y="725.7"><tspan class="it">S. argenteolus</tspan> CGMCC 4.1693<tspan class="sup" dy="-5">T</tspan></text></g>
<g id="e-FXJ6.047"><text x="1441.7" y="742.3"><tspan class="it">S.</tspan> sp. FXJ6.047</text></g>
</g>
</svg>
